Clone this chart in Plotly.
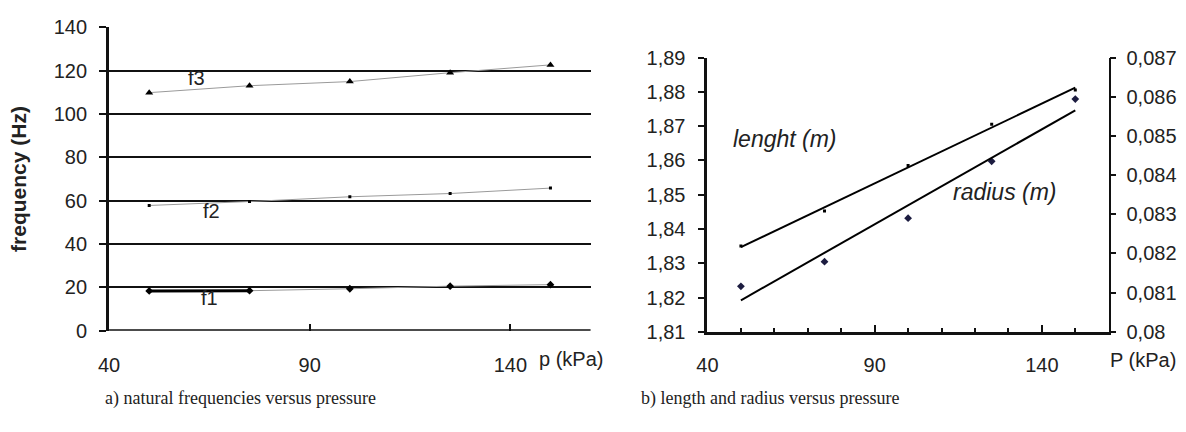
import numpy as np
import plotly.graph_objects as go

# ---- data ----
pressure = [50, 75, 100, 125, 150]
f1 = [18.4, 18.5, 19.4, 20.6, 21.3]
f2 = [57.8, 59.6, 61.8, 63.3, 65.8]
f3 = [109.8, 113.0, 114.9, 119.0, 122.6]

length_m = [1.8350, 1.8452, 1.8585, 1.8705, 1.8805]
radius_m = [0.08116, 0.08179, 0.08290, 0.08435, 0.08594]

x_ticks = [40, 90, 140]
freq_ticks = [0, 20, 40, 60, 80, 100, 120, 140]
len_ticks = [1.81, 1.82, 1.83, 1.84, 1.85, 1.86, 1.87, 1.88, 1.89]
len_text = ["1,81", "1,82", "1,83", "1,84", "1,85", "1,86", "1,87", "1,88", "1,89"]
rad_ticks = [0.080, 0.081, 0.082, 0.083, 0.084, 0.085, 0.086, 0.087]
rad_text = ["0,08", "0,081", "0,082", "0,083", "0,084", "0,085", "0,086", "0,087"]

W, H = 1186, 432
SANS = "Liberation Sans, Arial, sans-serif"
SERIF = "Liberation Serif, Times New Roman, serif"

fig = go.Figure()

gray = "#9a9a9a"
# left chart: natural frequencies
fig.add_trace(go.Scatter(x=pressure, y=f3, mode="lines+markers", xaxis="x", yaxis="y",
                         line=dict(color=gray, width=1),
                         marker=dict(symbol="triangle-up", size=7, color="black")))
fig.add_trace(go.Scatter(x=pressure, y=f2, mode="lines+markers", xaxis="x", yaxis="y",
                         line=dict(color=gray, width=1),
                         marker=dict(symbol="square", size=3, color="black")))
fig.add_trace(go.Scatter(x=pressure, y=f1, mode="lines+markers", xaxis="x", yaxis="y",
                         line=dict(color=gray, width=1),
                         marker=dict(symbol="diamond", size=6, color="black")))
fig.add_trace(go.Scatter(x=pressure[:2], y=f1[:2], mode="lines", xaxis="x", yaxis="y",
                         line=dict(color="black", width=3)))

# right chart: length and radius with linear trend lines
p = np.array(pressure, dtype=float)
lf = np.polyfit(p, length_m, 1)
rf = np.polyfit(p, radius_m, 1)
ends = np.array([pressure[0], pressure[-1]], dtype=float)

fig.add_trace(go.Scatter(x=pressure, y=length_m, mode="markers", xaxis="x2", yaxis="y2",
                         marker=dict(symbol="square", size=3, color="black")))
fig.add_trace(go.Scatter(x=ends, y=np.polyval(lf, ends), mode="lines", xaxis="x2", yaxis="y2",
                         line=dict(color="black", width=2)))
fig.add_trace(go.Scatter(x=pressure, y=radius_m, mode="markers", xaxis="x2", yaxis="y3",
                         marker=dict(symbol="diamond", size=6, color="#1c1c40")))
fig.add_trace(go.Scatter(x=ends, y=np.polyval(rf, ends), mode="lines", xaxis="x2", yaxis="y3",
                         line=dict(color="black", width=2)))

tickfont = dict(family=SANS, size=20, color="#222")

fig.update_layout(
    width=W, height=H,
    margin=dict(l=0, r=0, t=0, b=0),
    paper_bgcolor="white", plot_bgcolor="white",
    showlegend=False,
    separators=", ",
    font=dict(family=SANS, size=20, color="#222"),
    xaxis=dict(domain=[99 / W, 585 / W], range=[40, 160], anchor="y",
               tickvals=x_ticks, ticks="inside", ticklen=7, tickwidth=2, tickcolor="#111",
               showline=False, showgrid=False, zeroline=False,
               tickfont=tickfont, ticklabelstandoff=20),
    yaxis=dict(domain=[95 / H, 415 / H], range=[0, 140], anchor="x",
               tickvals=freq_ticks, ticks="outside", ticklen=7, tickwidth=2, tickcolor="#111",
               showline=True, linewidth=3, linecolor="#111",
               showgrid=True, gridcolor="#111", gridwidth=2, zeroline=False,
               tickfont=tickfont, ticklabelstandoff=8,
               title=dict(text="<b>frequency (Hz)</b>", font=dict(family=SANS, size=21, color="#222"),
                          standoff=22)),
    xaxis2=dict(domain=[703 / W, 1108 / W], range=[40, 160], anchor="y2",
                tickvals=x_ticks, ticks="inside", ticklen=7, tickwidth=2, tickcolor="#111",
                minor=dict(dtick=10, tick0=40, ticks="inside", ticklen=4, tickwidth=1.5, tickcolor="#111"),
                showline=True, linewidth=3, linecolor="#111",
                showgrid=False, zeroline=False,
                tickfont=tickfont, ticklabelstandoff=13),
    yaxis2=dict(domain=[94 / H, 383 / H], range=[1.81, 1.89], anchor="x2",
                tickvals=len_ticks, ticktext=len_text,
                ticks="outside", ticklen=6, tickwidth=2, tickcolor="#111",
                showline=True, linewidth=3, linecolor="#111",
                showgrid=False, zeroline=False, tickfont=tickfont, ticklabelstandoff=9),
    yaxis3=dict(range=[0.080, 0.087], overlaying="y2", side="right", anchor="x2",
                tickvals=rad_ticks, ticktext=rad_text,
                ticks="outside", ticklen=6, tickwidth=2, tickcolor="#111",
                showline=True, linewidth=1.5, linecolor="#111",
                showgrid=False, zeroline=False, tickfont=tickfont, ticklabelstandoff=6),
)

# bottom axis line for left chart (drawn as the 0 gridline, thicker)
fig.add_shape(type="line", xref="x domain", yref="y", x0=0, x1=1, y0=0, y1=0,
              line=dict(color="#111", width=3))

def ann(text, x, y, size=20, italic=False, family=SANS):
    fig.add_annotation(text=f"<i>{text}</i>" if italic else text,
                       xref="paper", yref="paper", x=x / W, y=1 - y / H,
                       xanchor="center", yanchor="middle", showarrow=False,
                       font=dict(family=family, size=size, color="#222"))

ann("f3", 187, 71)
ann("f2", 202, 211)
ann("f1", 200, 302)
ann("p (kPa)", 565, 367)
ann("P (kPa)", 1143, 368)
ann("lenght (m)", 781, 135, size=23, italic=True)
ann("radius (m)", 1003, 191, size=23, italic=True)
ann("a) natural frequencies versus pressure", 232, 408, size=18, family=SERIF)
ann("b) length and radius versus pressure", 766, 408, size=18, family=SERIF)

fig.write_html("out.html")
